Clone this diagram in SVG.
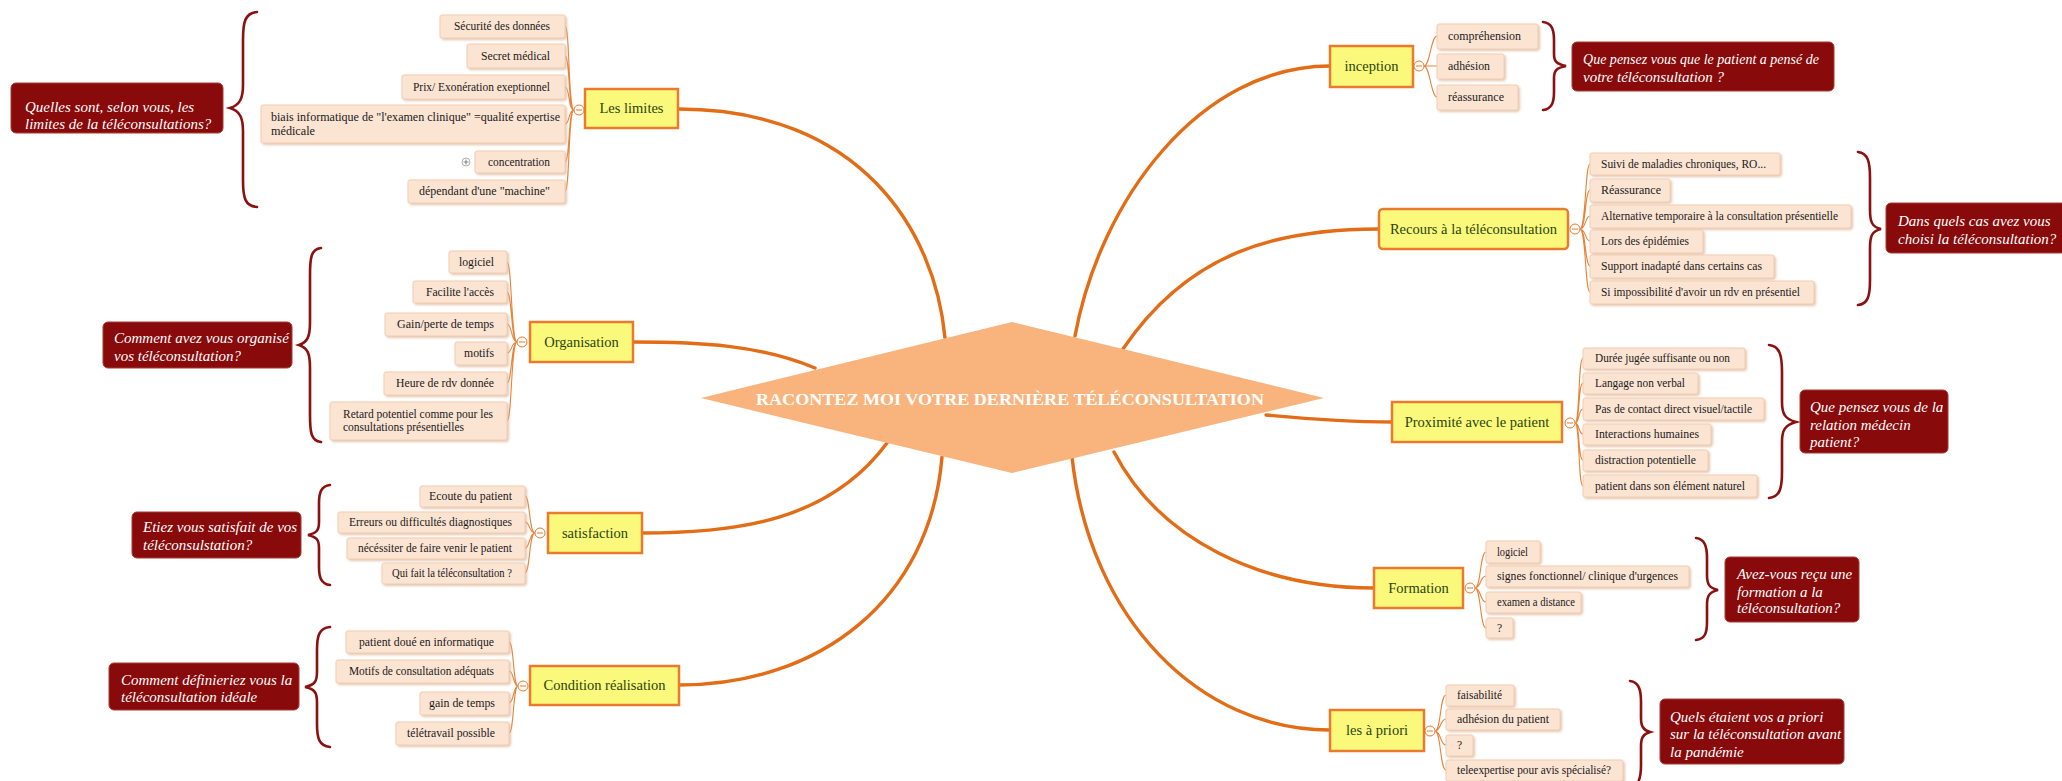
<svg xmlns="http://www.w3.org/2000/svg" width="2062" height="781" viewBox="0 0 2062 781">
<defs>
<filter id="sh" x="-10%" y="-20%" width="130%" height="160%"><feDropShadow dx="1.5" dy="1.5" stdDeviation="1" flood-color="#D9AE90" flood-opacity="0.7"/></filter>
<style>
.main{fill:none;stroke:#E36C16;stroke-width:3.4;stroke-linecap:round}
.fan{fill:none;stroke:#E8843A;stroke-width:1.1}
.br{fill:#FBF97C;stroke:#EA7A2E;stroke-width:2.5}
.bt{font-family:"Liberation Serif",serif;font-size:14.5px;fill:#2A4510;text-anchor:middle}
.ch{fill:#FCE4D3;stroke:#F2CDB2;stroke-width:1;filter:url(#sh)}
.ct{font-family:"Liberation Serif",serif;font-size:11.5px;fill:#1a1a1a}
.ce{text-anchor:end}
.q{fill:#880A0A;stroke:#A83A30;stroke-width:1}
.qt{font-family:"Liberation Serif",serif;font-style:italic;font-size:15px;fill:#fff}
.brace{fill:none;stroke:#8B1010;stroke-width:2.6;stroke-linecap:round}
.col{fill:#fff;stroke:#E8782C;stroke-width:1}
</style>
</defs>
<rect width="2062" height="781" fill="#fff"/>

<g id="connectors">
<path class="main" d="M945 338 C935 230 860 109 678 109"/>
<path class="main" d="M815 368 C760 345 700 342 633 342"/>
<path class="main" d="M887 443 C830 520 740 533 642 533"/>
<path class="main" d="M942 457 C930 600 820 685 679 685"/>
<path class="main" d="M1075 336 C1100 200 1200 66 1330 66"/>
<path class="main" d="M1123 349 C1190 250 1280 229 1379 229"/>
<path class="main" d="M1266 415 C1320 420 1350 422 1392 422"/>
<path class="main" d="M1114 452 C1160 540 1260 588 1374 588"/>
<path class="main" d="M1072 457 C1090 620 1200 730 1330 730"/>
<path class="fan" d="M574 110 C568 110 570 26 565 26 M574 110 C568 110 570 56 565 56 M574 110 C568 110 570 87 565 87 M574 110 C568 110 570 124 565 124 M574 110 C568 110 570 162 565 162 M574 110 C568 110 570 191 565 191"/>
<path class="fan" d="M517 342 C511 342 512 262 507 262 M517 342 C511 342 512 292 507 292 M517 342 C511 342 512 324 507 324 M517 342 C511 342 512 353 507 353 M517 342 C511 342 512 383 507 383 M517 342 C511 342 512 421 507 421"/>
<path class="fan" d="M535 533 C529 533 530 496 525 496 M535 533 C529 533 530 522 525 522 M535 533 C529 533 530 548 525 548 M535 533 C529 533 530 573 525 573"/>
<path class="fan" d="M518 686 C513 686 514 642 509 642 M518 686 C513 686 514 671 509 671 M518 686 C513 686 514 703 509 703 M518 686 C513 686 514 733 509 733"/>
<path class="fan" d="M1424 66 C1430 66 1431 36 1437 36 M1424 66 C1430 66 1431 66 1437 66 M1424 66 C1430 66 1431 97 1437 97"/>
<path class="fan" d="M1580 229 C1586 229 1585 164 1590 164 M1580 229 C1586 229 1585 190 1590 190 M1580 229 C1586 229 1585 216 1590 216 M1580 229 C1586 229 1585 241 1590 241 M1580 229 C1586 229 1585 266 1590 266 M1580 229 C1586 229 1585 292 1590 292"/>
<path class="fan" d="M1575 423 C1580 423 1578 358 1583 358 M1575 423 C1580 423 1578 383 1583 383 M1575 423 C1580 423 1578 409 1583 409 M1575 423 C1580 423 1578 434 1583 434 M1575 423 C1580 423 1578 460 1583 460 M1575 423 C1580 423 1578 486 1583 486"/>
<path class="fan" d="M1475 588 C1481 588 1480 552 1486 552 M1475 588 C1481 588 1480 576 1486 576 M1475 588 C1481 588 1480 602 1486 602 M1475 588 C1481 588 1480 628 1486 628"/>
<path class="fan" d="M1435 731 C1441 731 1440 695 1446 695 M1435 731 C1441 731 1440 719 1446 719 M1435 731 C1441 731 1440 745 1446 745 M1435 731 C1441 731 1440 770 1446 770"/>
</g>

<g id="center">
<polygon points="701,398 1012,322 1324,398 1012,473" fill="#F9B47E"/>
<text x="1010" y="405" font-family="Liberation Serif,serif" font-weight="bold" font-size="17" fill="#fff" text-anchor="middle" textLength="508" lengthAdjust="spacingAndGlyphs">RACONTEZ MOI VOTRE DERNIÈRE TÉLÉCONSULTATION</text>
</g>

<g id="les-limites">
<rect class="br" x="585" y="89" width="93" height="39"/>
<text class="bt" x="631.5" y="113">Les limites</text>
<circle class="col" cx="579" cy="110" r="5"/><line x1="576" y1="110" x2="582" y2="110" stroke="#E8782C"/>
<rect class="ch" x="440" y="15" width="125" height="23" rx="2"/><text class="ct ce" x="550" y="30" textLength="96" lengthAdjust="spacingAndGlyphs">Sécurité des données</text>
<rect class="ch" x="467" y="44" width="98" height="24" rx="2"/><text class="ct ce" x="550" y="60" textLength="69" lengthAdjust="spacingAndGlyphs">Secret médical</text>
<rect class="ch" x="402" y="75" width="163" height="24" rx="2"/><text class="ct ce" x="550" y="91" textLength="137" lengthAdjust="spacingAndGlyphs">Prix/ Exonération exeptionnel</text>
<rect class="ch" x="261" y="105" width="304" height="38" rx="2"/><text class="ct" x="271" y="121" textLength="289" lengthAdjust="spacingAndGlyphs">biais informatique de "l'examen clinique" =qualité expertise</text><text class="ct" x="271" y="135" textLength="44" lengthAdjust="spacingAndGlyphs">médicale</text>
<rect class="ch" x="475" y="151" width="90" height="22" rx="2"/><text class="ct ce" x="550" y="166" textLength="62" lengthAdjust="spacingAndGlyphs">concentration</text>
<circle cx="466" cy="162" r="4" fill="#fff" stroke="#999" stroke-width="0.8"/><line x1="463.5" y1="162" x2="468.5" y2="162" stroke="#666" stroke-width="0.8"/><line x1="466" y1="159.5" x2="466" y2="164.5" stroke="#666" stroke-width="0.8"/>
<rect class="ch" x="408" y="180" width="157" height="23" rx="2"/><text class="ct ce" x="550" y="195" textLength="131" lengthAdjust="spacingAndGlyphs">dépendant d'une "machine"</text>
</g>
<g id="q-limites">
<path class="brace" d="M257 12 C245 13 243 22 243 40 L243 85 C243 98 240 105 230 108 C240 111 243 118 243 131 L243 180 C243 198 245 206 257 207"/>
<rect class="q" x="11" y="83" width="212" height="50" rx="5"/>
<text class="qt" x="25" y="112">Quelles sont, selon vous, les</text>
<text class="qt" x="25" y="129">limites de la téléconsultations?</text>
</g>

<g id="organisation">
<rect class="br" x="530" y="322" width="103" height="40"/>
<text class="bt" x="581.5" y="347">Organisation</text>
<circle class="col" cx="522" cy="342" r="5"/><line x1="519" y1="342" x2="525" y2="342" stroke="#E8782C"/>
<rect class="ch" x="449" y="251" width="58" height="22" rx="2"/><text class="ct ce" x="494" y="266" textLength="35" lengthAdjust="spacingAndGlyphs">logiciel</text>
<rect class="ch" x="413" y="281" width="94" height="22" rx="2"/><text class="ct ce" x="494" y="296" textLength="68" lengthAdjust="spacingAndGlyphs">Facilite l'accès</text>
<rect class="ch" x="385" y="313" width="122" height="23" rx="2"/><text class="ct ce" x="494" y="328" textLength="97" lengthAdjust="spacingAndGlyphs">Gain/perte de temps</text>
<rect class="ch" x="455" y="342" width="52" height="23" rx="2"/><text class="ct ce" x="494" y="357" textLength="30" lengthAdjust="spacingAndGlyphs">motifs</text>
<rect class="ch" x="384" y="372" width="123" height="23" rx="2"/><text class="ct ce" x="494" y="387" textLength="98" lengthAdjust="spacingAndGlyphs">Heure de rdv donnée</text>
<rect class="ch" x="330" y="402" width="177" height="38" rx="2"/><text class="ct" x="343" y="418" textLength="150" lengthAdjust="spacingAndGlyphs">Retard potentiel comme pour les</text><text class="ct" x="343" y="431" textLength="121" lengthAdjust="spacingAndGlyphs">consultations présentielles</text>
</g>
<g id="q-organisation">
<path class="brace" d="M321 248 C311 249 310 258 310 275 L310 322 C310 336 308 342 299 345 C308 348 310 354 310 368 L310 415 C310 432 311 441 321 442"/>
<rect class="q" x="103" y="322" width="189" height="46" rx="5"/>
<text class="qt" x="114" y="343">Comment avez vous organisé</text>
<text class="qt" x="114" y="361">vos téléconsultation?</text>
</g>

<g id="satisfaction">
<rect class="br" x="548" y="513" width="94" height="40"/>
<text class="bt" x="595" y="538">satisfaction</text>
<circle class="col" cx="540" cy="533" r="5"/><line x1="537" y1="533" x2="543" y2="533" stroke="#E8782C"/>
<rect class="ch" x="420" y="486" width="105" height="21" rx="2"/><text class="ct ce" x="512" y="500" textLength="83" lengthAdjust="spacingAndGlyphs">Ecoute du patient</text>
<rect class="ch" x="338" y="512" width="187" height="21" rx="2"/><text class="ct ce" x="512" y="526" textLength="163" lengthAdjust="spacingAndGlyphs">Erreurs ou difficultés diagnostiques</text>
<rect class="ch" x="347" y="538" width="178" height="21" rx="2"/><text class="ct ce" x="512" y="552" textLength="154" lengthAdjust="spacingAndGlyphs">nécéssiter de faire venir le patient</text>
<rect class="ch" x="382" y="563" width="143" height="21" rx="2"/><text class="ct ce" x="512" y="577" textLength="120" lengthAdjust="spacingAndGlyphs">Qui fait la téléconsultation ?</text>
</g>
<g id="q-satisfaction">
<path class="brace" d="M330 485 C321 486 319 493 319 503 L319 522 C319 530 317 533 308 535 C317 537 319 540 319 548 L319 567 C319 577 321 584 330 585"/>
<rect class="q" x="132" y="512" width="169" height="46" rx="5"/>
<text class="qt" x="143" y="532">Etiez vous satisfait de vos</text>
<text class="qt" x="143" y="550">téléconsulstation?</text>
</g>

<g id="condition">
<rect class="br" x="530" y="666" width="149" height="39"/>
<text class="bt" x="604.5" y="690">Condition réalisation</text>
<circle class="col" cx="523" cy="686" r="5"/><line x1="520" y1="686" x2="526" y2="686" stroke="#E8782C"/>
<rect class="ch" x="346" y="631" width="163" height="22" rx="2"/><text class="ct ce" x="494" y="646" textLength="135" lengthAdjust="spacingAndGlyphs">patient doué en informatique</text>
<rect class="ch" x="336" y="660" width="173" height="23" rx="2"/><text class="ct ce" x="494" y="675" textLength="145" lengthAdjust="spacingAndGlyphs">Motifs de consultation adéquats</text>
<rect class="ch" x="420" y="692" width="89" height="23" rx="2"/><text class="ct ce" x="495" y="707" textLength="66" lengthAdjust="spacingAndGlyphs">gain de temps</text>
<rect class="ch" x="396" y="722" width="113" height="23" rx="2"/><text class="ct ce" x="495" y="737" textLength="88" lengthAdjust="spacingAndGlyphs">télétravail possible</text>
</g>
<g id="q-condition">
<path class="brace" d="M330 627 C319 628 317 636 317 650 L317 672 C317 681 315 685 305 687 C315 689 317 693 317 702 L317 724 C317 738 319 746 330 747"/>
<rect class="q" x="109" y="663" width="190" height="47" rx="5"/>
<text class="qt" x="121" y="685">Comment définieriez vous la</text>
<text class="qt" x="121" y="702">téléconsultation idéale</text>
</g>

<g id="inception">
<rect class="br" x="1330" y="46" width="83" height="41"/>
<text class="bt" x="1371.5" y="71">inception</text>
<circle class="col" cx="1419" cy="66" r="5"/><line x1="1416" y1="66" x2="1422" y2="66" stroke="#E8782C"/>
<rect class="ch" x="1437" y="24" width="101" height="25" rx="2"/><text class="ct" x="1448" y="40" textLength="73" lengthAdjust="spacingAndGlyphs">compréhension</text>
<rect class="ch" x="1437" y="54" width="67" height="25" rx="2"/><text class="ct" x="1448" y="70" textLength="42" lengthAdjust="spacingAndGlyphs">adhésion</text>
<rect class="ch" x="1437" y="85" width="81" height="25" rx="2"/><text class="ct" x="1448" y="101" textLength="56" lengthAdjust="spacingAndGlyphs">réassurance</text>
</g>
<g id="q-inception">
<path class="brace" d="M1543 22 C1552 23 1554 30 1554 40 L1554 54 C1554 61 1556 64 1566 66 C1556 68 1554 71 1554 78 L1554 92 C1554 102 1552 109 1543 110"/>
<rect class="q" x="1572" y="42" width="262" height="49" rx="5"/>
<text class="qt" x="1583" y="64" textLength="236" lengthAdjust="spacingAndGlyphs">Que pensez vous que le patient a pensé de</text>
<text class="qt" x="1583" y="82">votre téléconsultation ?</text>
</g>

<g id="recours">
<rect class="br" x="1379" y="209" width="189" height="40" rx="4"/>
<text class="bt" x="1473.5" y="234">Recours à la téléconsultation</text>
<circle class="col" cx="1575" cy="229" r="5"/><line x1="1572" y1="229" x2="1578" y2="229" stroke="#E8782C"/>
<rect class="ch" x="1590" y="153" width="190" height="22" rx="2"/><text class="ct" x="1601" y="168" textLength="165" lengthAdjust="spacingAndGlyphs">Suivi de maladies chroniques, RO...</text>
<rect class="ch" x="1590" y="179" width="80" height="23" rx="2"/><text class="ct" x="1601" y="194" textLength="60" lengthAdjust="spacingAndGlyphs">Réassurance</text>
<rect class="ch" x="1590" y="205" width="261" height="23" rx="2"/><text class="ct" x="1601" y="220" textLength="237" lengthAdjust="spacingAndGlyphs">Alternative temporaire à la consultation présentielle</text>
<rect class="ch" x="1590" y="230" width="113" height="23" rx="2"/><text class="ct" x="1601" y="245" textLength="88" lengthAdjust="spacingAndGlyphs">Lors des épidémies</text>
<rect class="ch" x="1590" y="255" width="184" height="23" rx="2"/><text class="ct" x="1601" y="270" textLength="161" lengthAdjust="spacingAndGlyphs">Support inadapté dans certains cas</text>
<rect class="ch" x="1590" y="281" width="224" height="23" rx="2"/><text class="ct" x="1601" y="296" textLength="199" lengthAdjust="spacingAndGlyphs">Si impossibilité d'avoir un rdv en présentiel</text>
</g>
<g id="q-recours">
<path class="brace" d="M1858 152 C1868 153 1870 162 1870 178 L1870 210 C1870 222 1872 227 1881 229 C1872 231 1870 236 1870 248 L1870 280 C1870 296 1868 304 1858 305"/>
<rect class="q" x="1886" y="203" width="180" height="50" rx="5"/>
<text class="qt" x="1898" y="226">Dans quels cas avez vous</text>
<text class="qt" x="1898" y="244">choisi la téléconsultation?</text>
</g>

<g id="proximite">
<rect class="br" x="1392" y="402" width="170" height="40"/>
<text class="bt" x="1477" y="427">Proximité avec le patient</text>
<circle class="col" cx="1570" cy="423" r="5"/><line x1="1567" y1="423" x2="1573" y2="423" stroke="#E8782C"/>
<rect class="ch" x="1583" y="348" width="162" height="21" rx="2"/><text class="ct" x="1595" y="362" textLength="135" lengthAdjust="spacingAndGlyphs">Durée jugée suffisante ou non</text>
<rect class="ch" x="1583" y="373" width="115" height="21" rx="2"/><text class="ct" x="1595" y="387" textLength="90" lengthAdjust="spacingAndGlyphs">Langage non verbal</text>
<rect class="ch" x="1583" y="398" width="181" height="22" rx="2"/><text class="ct" x="1595" y="413" textLength="157" lengthAdjust="spacingAndGlyphs">Pas de contact direct visuel/tactile</text>
<rect class="ch" x="1583" y="424" width="128" height="21" rx="2"/><text class="ct" x="1595" y="438" textLength="104" lengthAdjust="spacingAndGlyphs">Interactions humaines</text>
<rect class="ch" x="1583" y="450" width="125" height="21" rx="2"/><text class="ct" x="1595" y="464" textLength="101" lengthAdjust="spacingAndGlyphs">distraction potentielle</text>
<rect class="ch" x="1583" y="475" width="174" height="22" rx="2"/><text class="ct" x="1595" y="490" textLength="150" lengthAdjust="spacingAndGlyphs">patient dans son élément naturel</text>
</g>
<g id="q-proximite">
<path class="brace" d="M1769 345 C1780 346 1782 356 1782 372 L1782 402 C1782 414 1785 419 1796 422 C1785 425 1782 430 1782 442 L1782 472 C1782 488 1780 497 1769 498"/>
<rect class="q" x="1800" y="390" width="148" height="63" rx="5"/>
<text class="qt" x="1810" y="412">Que pensez vous de la</text>
<text class="qt" x="1810" y="430">relation médecin</text>
<text class="qt" x="1810" y="447">patient?</text>
</g>

<g id="formation">
<rect class="br" x="1374" y="568" width="89" height="40"/>
<text class="bt" x="1418.5" y="593">Formation</text>
<circle class="col" cx="1470" cy="588" r="5"/><line x1="1467" y1="588" x2="1473" y2="588" stroke="#E8782C"/>
<rect class="ch" x="1486" y="541" width="54" height="22" rx="2"/><text class="ct" x="1497" y="556" textLength="31" lengthAdjust="spacingAndGlyphs">logiciel</text>
<rect class="ch" x="1486" y="566" width="203" height="21" rx="2"/><text class="ct" x="1497" y="580" textLength="181" lengthAdjust="spacingAndGlyphs">signes fonctionnel/ clinique d'urgences</text>
<rect class="ch" x="1486" y="592" width="95" height="21" rx="2"/><text class="ct" x="1497" y="606" textLength="78" lengthAdjust="spacingAndGlyphs">examen a distance</text>
<rect class="ch" x="1486" y="618" width="27" height="20" rx="2"/><text class="ct" x="1497" y="632">?</text>
</g>
<g id="q-formation">
<path class="brace" d="M1696 538 C1705 539 1707 547 1707 558 L1707 575 C1707 584 1709 588 1718 590 C1709 592 1707 596 1707 605 L1707 622 C1707 633 1705 639 1696 640"/>
<rect class="q" x="1725" y="557" width="134" height="65" rx="5"/>
<text class="qt" x="1737" y="579">Avez-vous reçu une</text>
<text class="qt" x="1737" y="597">formation a la</text>
<text class="qt" x="1737" y="613">téléconsultation?</text>
</g>

<g id="a-priori">
<rect class="br" x="1330" y="710" width="94" height="41"/>
<text class="bt" x="1377" y="735">les à priori</text>
<circle class="col" cx="1430" cy="731" r="5"/><line x1="1427" y1="731" x2="1433" y2="731" stroke="#E8782C"/>
<rect class="ch" x="1446" y="685" width="68" height="21" rx="2"/><text class="ct" x="1457" y="699" textLength="45" lengthAdjust="spacingAndGlyphs">faisabilité</text>
<rect class="ch" x="1446" y="709" width="114" height="21" rx="2"/><text class="ct" x="1457" y="723" textLength="92" lengthAdjust="spacingAndGlyphs">adhésion du patient</text>
<rect class="ch" x="1446" y="735" width="27" height="21" rx="2"/><text class="ct" x="1457" y="749">?</text>
<rect class="ch" x="1446" y="760" width="177" height="21" rx="2"/><text class="ct" x="1457" y="774" textLength="154" lengthAdjust="spacingAndGlyphs">teleexpertise pour avis spécialisé?</text>
</g>
<g id="q-a-priori">
<path class="brace" d="M1630 681 C1639 682 1641 690 1641 702 L1641 718 C1641 726 1643 730 1650 732 C1643 734 1641 738 1641 746 L1641 765 C1641 777 1639 786 1630 788"/>
<rect class="q" x="1660" y="699" width="184" height="65" rx="5"/>
<text class="qt" x="1670" y="722">Quels étaient vos a priori</text>
<text class="qt" x="1670" y="739">sur la téléconsultation avant</text>
<text class="qt" x="1670" y="757">la pandémie</text>
</g>
</svg>
